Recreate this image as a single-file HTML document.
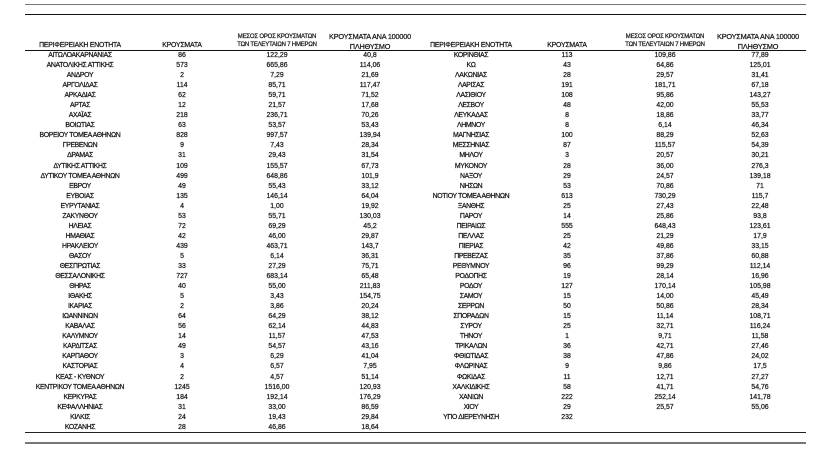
<!DOCTYPE html>
<html><head><meta charset="utf-8"><style>
body{margin:0;background:#fff;width:819px;height:463px;position:relative;overflow:hidden;font-family:"Liberation Sans",sans-serif;color:#111;-webkit-text-stroke:0.25px #222}
.ln{position:absolute;height:0}
.t{position:absolute;top:51px}
.r{height:10.05px;line-height:10.05px;white-space:nowrap;font-size:6.9px;display:flex}
.r span{display:block;text-align:center;overflow:visible}
.nm{letter-spacing:-0.35px}
.h{position:absolute;font-size:6.9px;text-align:center;white-space:nowrap;letter-spacing:-0.2px}
.hs{font-size:6px}
.hb{font-size:7.3px}
.L span:nth-child(1){width:120px}.L span:nth-child(2){width:84px}.L span:nth-child(3){width:106px}.L span:nth-child(4){width:80px}
.R span:nth-child(1){width:120px}.R span:nth-child(2){width:72px}.R span:nth-child(3){width:124px}.R span:nth-child(4){width:66px}
</style></head><body>
<div class="ln" style="left:25px;top:4px;width:781px;border-top:1px solid #777"></div>
<div class="ln" style="left:25px;top:13.5px;width:781px;border-top:1px solid #111"></div>
<div class="ln" style="left:25px;top:49.5px;width:781px;border-top:1px solid #111"></div>
<div class="ln" style="left:25px;top:432px;width:781px;border-top:1px solid #222"></div>
<div class="ln" style="left:25px;top:441.5px;width:781px;border-top:2px solid #777"></div>

<div class="h" style="left:20px;width:120px;top:42px">ΠΕΡΙΦΕΡΕΙΑΚΗ ΕΝΟΤΗΤΑ</div>
<div class="h" style="left:140px;width:84px;top:42px">ΚΡΟΥΣΜΑΤΑ</div>
<div class="h hs" style="left:224px;width:106px;top:34px">ΜΕΣΟΣ ΟΡΟΣ ΚΡΟΥΣΜΑΤΩΝ</div>
<div class="h hs" style="left:224px;width:106px;top:42px">ΤΩΝ ΤΕΛΕΥΤΑΙΩΝ 7 ΗΜΕΡΩΝ</div>
<div class="h hb" style="left:325px;width:90px;top:32px">ΚΡΟΥΣΜΑΤΑ ΑΝΑ 100000</div>
<div class="h hb" style="left:325px;width:90px;top:42px">ΠΛΗΘΥΣΜΟ</div>

<div class="h" style="left:411px;width:120px;top:42px">ΠΕΡΙΦΕΡΕΙΑΚΗ ΕΝΟΤΗΤΑ</div>
<div class="h" style="left:531px;width:72px;top:42px">ΚΡΟΥΣΜΑΤΑ</div>
<div class="h hs" style="left:603px;width:124px;top:34px">ΜΕΣΟΣ ΟΡΟΣ ΚΡΟΥΣΜΑΤΩΝ</div>
<div class="h hs" style="left:603px;width:124px;top:42px">ΤΩΝ ΤΕΛΕΥΤΑΙΩΝ 7 ΗΜΕΡΩΝ</div>
<div class="h hb" style="left:713px;width:90px;top:32px">ΚΡΟΥΣΜΑΤΑ ΑΝΑ 100000</div>
<div class="h hb" style="left:713px;width:90px;top:42px">ΠΛΗΘΥΣΜΟ</div>

<div class="t L" style="left:20px">
<div class="r"><span class="nm">ΑΙΤΩΛΟΑΚΑΡΝΑΝΙΑΣ</span><span>86</span><span>122,29</span><span>40,8</span></div>
<div class="r"><span class="nm">ΑΝΑΤΟΛΙΚΗΣ ΑΤΤΙΚΗΣ</span><span>573</span><span>665,86</span><span>114,06</span></div>
<div class="r"><span class="nm">ΑΝΔΡΟΥ</span><span>2</span><span>7,29</span><span>21,69</span></div>
<div class="r"><span class="nm">ΑΡΓΟΛΙΔΑΣ</span><span>114</span><span>85,71</span><span>117,47</span></div>
<div class="r"><span class="nm">ΑΡΚΑΔΙΑΣ</span><span>62</span><span>59,71</span><span>71,52</span></div>
<div class="r"><span class="nm">ΑΡΤΑΣ</span><span>12</span><span>21,57</span><span>17,68</span></div>
<div class="r"><span class="nm">ΑΧΑΪΑΣ</span><span>218</span><span>236,71</span><span>70,26</span></div>
<div class="r"><span class="nm">ΒΟΙΩΤΙΑΣ</span><span>63</span><span>53,57</span><span>53,43</span></div>
<div class="r"><span class="nm">ΒΟΡΕΙΟΥ ΤΟΜΕΑ ΑΘΗΝΩΝ</span><span>828</span><span>997,57</span><span>139,94</span></div>
<div class="r"><span class="nm">ΓΡΕΒΕΝΩΝ</span><span>9</span><span>7,43</span><span>28,34</span></div>
<div class="r"><span class="nm">ΔΡΑΜΑΣ</span><span>31</span><span>29,43</span><span>31,54</span></div>
<div class="r"><span class="nm">ΔΥΤΙΚΗΣ ΑΤΤΙΚΗΣ</span><span>109</span><span>155,57</span><span>67,73</span></div>
<div class="r"><span class="nm">ΔΥΤΙΚΟΥ ΤΟΜΕΑ ΑΘΗΝΩΝ</span><span>499</span><span>648,86</span><span>101,9</span></div>
<div class="r"><span class="nm">ΕΒΡΟΥ</span><span>49</span><span>55,43</span><span>33,12</span></div>
<div class="r"><span class="nm">ΕΥΒΟΙΑΣ</span><span>135</span><span>146,14</span><span>64,04</span></div>
<div class="r"><span class="nm">ΕΥΡΥΤΑΝΙΑΣ</span><span>4</span><span>1,00</span><span>19,92</span></div>
<div class="r"><span class="nm">ΖΑΚΥΝΘΟΥ</span><span>53</span><span>55,71</span><span>130,03</span></div>
<div class="r"><span class="nm">ΗΛΕΙΑΣ</span><span>72</span><span>69,29</span><span>45,2</span></div>
<div class="r"><span class="nm">ΗΜΑΘΙΑΣ</span><span>42</span><span>46,00</span><span>29,87</span></div>
<div class="r"><span class="nm">ΗΡΑΚΛΕΙΟΥ</span><span>439</span><span>463,71</span><span>143,7</span></div>
<div class="r"><span class="nm">ΘΑΣΟΥ</span><span>5</span><span>6,14</span><span>36,31</span></div>
<div class="r"><span class="nm">ΘΕΣΠΡΩΤΙΑΣ</span><span>33</span><span>27,29</span><span>75,71</span></div>
<div class="r"><span class="nm">ΘΕΣΣΑΛΟΝΙΚΗΣ</span><span>727</span><span>683,14</span><span>65,48</span></div>
<div class="r"><span class="nm">ΘΗΡΑΣ</span><span>40</span><span>55,00</span><span>211,83</span></div>
<div class="r"><span class="nm">ΙΘΑΚΗΣ</span><span>5</span><span>3,43</span><span>154,75</span></div>
<div class="r"><span class="nm">ΙΚΑΡΙΑΣ</span><span>2</span><span>3,86</span><span>20,24</span></div>
<div class="r"><span class="nm">ΙΩΑΝΝΙΝΩΝ</span><span>64</span><span>64,29</span><span>38,12</span></div>
<div class="r"><span class="nm">ΚΑΒΑΛΑΣ</span><span>56</span><span>62,14</span><span>44,83</span></div>
<div class="r"><span class="nm">ΚΑΛΥΜΝΟΥ</span><span>14</span><span>11,57</span><span>47,53</span></div>
<div class="r"><span class="nm">ΚΑΡΔΙΤΣΑΣ</span><span>49</span><span>54,57</span><span>43,16</span></div>
<div class="r"><span class="nm">ΚΑΡΠΑΘΟΥ</span><span>3</span><span>6,29</span><span>41,04</span></div>
<div class="r"><span class="nm">ΚΑΣΤΟΡΙΑΣ</span><span>4</span><span>6,57</span><span>7,95</span></div>
<div class="r"><span class="nm">ΚΕΑΣ - ΚΥΘΝΟΥ</span><span>2</span><span>4,57</span><span>51,14</span></div>
<div class="r"><span class="nm">ΚΕΝΤΡΙΚΟΥ ΤΟΜΕΑ ΑΘΗΝΩΝ</span><span>1245</span><span>1516,00</span><span>120,93</span></div>
<div class="r"><span class="nm">ΚΕΡΚΥΡΑΣ</span><span>184</span><span>192,14</span><span>176,29</span></div>
<div class="r"><span class="nm">ΚΕΦΑΛΛΗΝΙΑΣ</span><span>31</span><span>33,00</span><span>86,59</span></div>
<div class="r"><span class="nm">ΚΙΛΚΙΣ</span><span>24</span><span>19,43</span><span>29,84</span></div>
<div class="r"><span class="nm">ΚΟΖΑΝΗΣ</span><span>28</span><span>46,86</span><span>18,64</span></div>
</div>

<div class="t R" style="left:411px">
<div class="r"><span class="nm">ΚΟΡΙΝΘΙΑΣ</span><span>113</span><span>109,86</span><span>77,89</span></div>
<div class="r"><span class="nm">ΚΩ</span><span>43</span><span>64,86</span><span>125,01</span></div>
<div class="r"><span class="nm">ΛΑΚΩΝΙΑΣ</span><span>28</span><span>29,57</span><span>31,41</span></div>
<div class="r"><span class="nm">ΛΑΡΙΣΑΣ</span><span>191</span><span>181,71</span><span>67,18</span></div>
<div class="r"><span class="nm">ΛΑΣΙΘΙΟΥ</span><span>108</span><span>95,86</span><span>143,27</span></div>
<div class="r"><span class="nm">ΛΕΣΒΟΥ</span><span>48</span><span>42,00</span><span>55,53</span></div>
<div class="r"><span class="nm">ΛΕΥΚΑΔΑΣ</span><span>8</span><span>18,86</span><span>33,77</span></div>
<div class="r"><span class="nm">ΛΗΜΝΟΥ</span><span>8</span><span>6,14</span><span>46,34</span></div>
<div class="r"><span class="nm">ΜΑΓΝΗΣΙΑΣ</span><span>100</span><span>88,29</span><span>52,63</span></div>
<div class="r"><span class="nm">ΜΕΣΣΗΝΙΑΣ</span><span>87</span><span>115,57</span><span>54,39</span></div>
<div class="r"><span class="nm">ΜΗΛΟΥ</span><span>3</span><span>20,57</span><span>30,21</span></div>
<div class="r"><span class="nm">ΜΥΚΟΝΟΥ</span><span>28</span><span>36,00</span><span>276,3</span></div>
<div class="r"><span class="nm">ΝΑΞΟΥ</span><span>29</span><span>24,57</span><span>139,18</span></div>
<div class="r"><span class="nm">ΝΗΣΩΝ</span><span>53</span><span>70,86</span><span>71</span></div>
<div class="r"><span class="nm">ΝΟΤΙΟΥ ΤΟΜΕΑ ΑΘΗΝΩΝ</span><span>613</span><span>730,29</span><span>115,7</span></div>
<div class="r"><span class="nm">ΞΑΝΘΗΣ</span><span>25</span><span>27,43</span><span>22,48</span></div>
<div class="r"><span class="nm">ΠΑΡΟΥ</span><span>14</span><span>25,86</span><span>93,8</span></div>
<div class="r"><span class="nm">ΠΕΙΡΑΙΩΣ</span><span>555</span><span>648,43</span><span>123,61</span></div>
<div class="r"><span class="nm">ΠΕΛΛΑΣ</span><span>25</span><span>21,29</span><span>17,9</span></div>
<div class="r"><span class="nm">ΠΙΕΡΙΑΣ</span><span>42</span><span>49,86</span><span>33,15</span></div>
<div class="r"><span class="nm">ΠΡΕΒΕΖΑΣ</span><span>35</span><span>37,86</span><span>60,88</span></div>
<div class="r"><span class="nm">ΡΕΘΥΜΝΟΥ</span><span>96</span><span>99,29</span><span>112,14</span></div>
<div class="r"><span class="nm">ΡΟΔΟΠΗΣ</span><span>19</span><span>28,14</span><span>16,96</span></div>
<div class="r"><span class="nm">ΡΟΔΟΥ</span><span>127</span><span>170,14</span><span>105,98</span></div>
<div class="r"><span class="nm">ΣΑΜΟΥ</span><span>15</span><span>14,00</span><span>45,49</span></div>
<div class="r"><span class="nm">ΣΕΡΡΩΝ</span><span>50</span><span>50,86</span><span>28,34</span></div>
<div class="r"><span class="nm">ΣΠΟΡΑΔΩΝ</span><span>15</span><span>11,14</span><span>108,71</span></div>
<div class="r"><span class="nm">ΣΥΡΟΥ</span><span>25</span><span>32,71</span><span>116,24</span></div>
<div class="r"><span class="nm">ΤΗΝΟΥ</span><span>1</span><span>9,71</span><span>11,58</span></div>
<div class="r"><span class="nm">ΤΡΙΚΑΛΩΝ</span><span>36</span><span>42,71</span><span>27,46</span></div>
<div class="r"><span class="nm">ΦΘΙΩΤΙΔΑΣ</span><span>38</span><span>47,86</span><span>24,02</span></div>
<div class="r"><span class="nm">ΦΛΩΡΙΝΑΣ</span><span>9</span><span>9,86</span><span>17,5</span></div>
<div class="r"><span class="nm">ΦΩΚΙΔΑΣ</span><span>11</span><span>12,71</span><span>27,27</span></div>
<div class="r"><span class="nm">ΧΑΛΚΙΔΙΚΗΣ</span><span>58</span><span>41,71</span><span>54,76</span></div>
<div class="r"><span class="nm">ΧΑΝΙΩΝ</span><span>222</span><span>252,14</span><span>141,78</span></div>
<div class="r"><span class="nm">ΧΙΟΥ</span><span>29</span><span>25,57</span><span>55,06</span></div>
<div class="r"><span class="nm">ΥΠΟ ΔΙΕΡΕΥΝΗΣΗ</span><span>232</span><span></span><span></span></div>
</div>
</body></html>
